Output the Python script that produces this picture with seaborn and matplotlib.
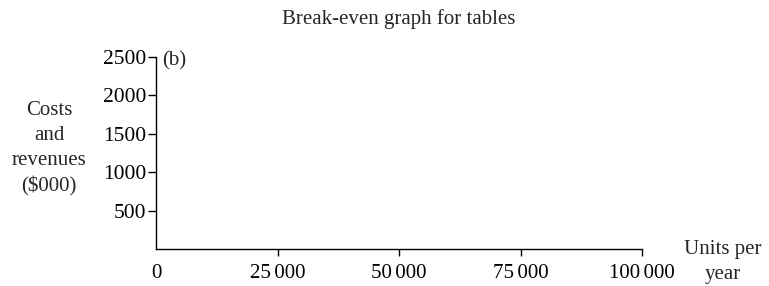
import matplotlib
matplotlib.use("Agg")
import matplotlib.pyplot as plt
import seaborn as sns

title = "Break-even graph for tables"
panel = "(b)"
x_ticks = [0, 25000, 50000, 75000, 100000]
x_labels = ["0", "25\u2006000", "50\u2006000", "75\u2006000", "100\u2006000"]
y_ticks = [500, 1000, 1500, 2000, 2500]
y_labels = ["500", "1000", "1500", "2000", "2500"]
y_title = "Costs\nand\nrevenues\n($000)"
x_title = "Units per\nyear"

sns.set_style("ticks")
plt.rcParams["font.family"] = ["Liberation Serif", "DejaVu Serif"]
plt.rcParams["font.size"] = 15

fig, ax = plt.subplots(figsize=(7.69, 2.86), dpi=100)
fig.subplots_adjust(left=156 / 769, right=642 / 769, bottom=1 - 249 / 286, top=1 - 57 / 286)

ax.set_xlim(0, 100000)
ax.set_ylim(0, 2500)
ax.set_xticks(x_ticks)
ax.set_xticklabels(x_labels)
ax.set_yticks(y_ticks)
ax.set_yticklabels(y_labels, fontsize=15.5)
sns.despine(ax=ax)
for s in ["left", "bottom"]:
    ax.spines[s].set_linewidth(1.0)
    ax.spines[s].set_color("black")
ax.tick_params(axis="y", length=5.5, width=1.0, pad=1.5, colors="black")
ax.tick_params(axis="x", length=5, width=1.0, pad=6, colors="black", labelsize=15)
ax.xaxis.get_major_ticks()[0].tick1line.set_visible(False)

ax.text(0.012, 1.03, panel, transform=ax.transAxes, ha="left", va="top", fontsize=15)

fig.text(398.5 / 769, 1 - 19 / 286, title, ha="center", va="center", fontsize=15)
fig.text(49 / 769, 1 - 149 / 286, y_title, ha="center", va="center",
         fontsize=15, linespacing=1.42)
fig.text(723 / 769, 1 - 262 / 286, x_title, ha="center", va="center",
         fontsize=15, linespacing=1.4)

fig.savefig("out.png", dpi=100)
